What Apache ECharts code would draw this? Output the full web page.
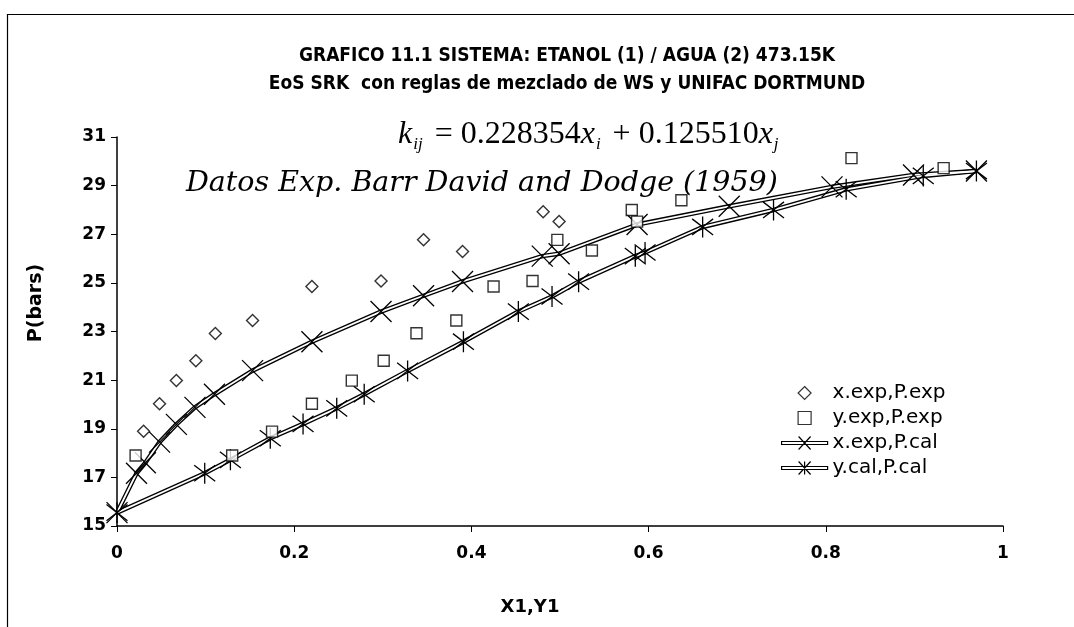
<!DOCTYPE html>
<html>
<head>
<meta charset="utf-8">
<script src="https://cdn.jsdelivr.net/npm/echarts@6/dist/echarts.min.js"></script>
<style>
html,body{margin:0;padding:0;background:#fff;}
#c{width:1074px;height:627px;}
</style>
</head>
<body>
<div id="c"></div>
<script>
// ---- data ----
const titleLines = ['GRAFICO 11.1 SISTEMA: ETANOL (1) / AGUA (2) 473.15K', 'EoS SRK  con reglas de mezclado de WS y UNIFAC DORTMUND'];
const xTicks = [0, 0.2, 0.4, 0.6, 0.8, 1];
const yTicks = [15, 17, 19, 21, 23, 25, 27, 29, 31];

// x.exp, P.exp (diamonds)
const xExp = [0.030, 0.048, 0.067, 0.089, 0.111, 0.153, 0.220, 0.298, 0.346, 0.390, 0.481, 0.499];
const pExpX = [18.9, 20.03, 20.98, 21.8, 22.92, 23.45, 24.85, 25.08, 26.77, 26.29, 27.93, 27.52];

// y.exp, P.exp (squares)
const yExp = [0.021, 0.130, 0.175, 0.220, 0.265, 0.301, 0.338, 0.383, 0.425, 0.469, 0.497, 0.536, 0.581, 0.587, 0.637, 0.829, 0.933];
const pExpY = [17.9, 17.9, 18.88, 20.03, 20.98, 21.8, 22.93, 23.45, 24.85, 25.08, 26.77, 26.33, 28.0, 27.52, 28.4, 30.13, 29.72];

// x.exp, P.cal (crosses)
const xCal = [0, 0.022, 0.032, 0.048, 0.067, 0.088, 0.110, 0.153, 0.220, 0.298, 0.346, 0.390, 0.480, 0.499, 0.587, 0.691, 0.807, 0.899, 0.970];
const pCalX = [15.55, 17.17, 17.6, 18.45, 19.18, 19.88, 20.42, 21.39, 22.58, 23.82, 24.47, 25.06, 26.1, 26.2, 27.4, 28.15, 28.95, 29.44, 29.6];

// y.cal, P.cal (asterisks)
const yCal = [0, 0.099, 0.128, 0.173, 0.210, 0.248, 0.279, 0.328, 0.391, 0.453, 0.491, 0.521, 0.585, 0.596, 0.661, 0.741, 0.823, 0.910, 0.970];
const pCalY = [15.55, 17.17, 17.72, 18.61, 19.2, 19.84, 20.42, 21.38, 22.58, 23.82, 24.44, 25.05, 26.1, 26.25, 27.3, 28.0, 28.85, 29.4, 29.6];

const names = ['x.exp,P.exp', 'y.exp,P.exp', 'x.exp,P.cal', 'y.cal,P.cal'];

// ---- build ----
const zip = (a, b) => a.map((v, i) => [v, b[i]]);
const crossPath = 'path://M0,0L10,10M10,0L0,10';
const starPath = 'path://M0,0L10,10M10,0L0,10M5,-1.5L5,11.5';
const sansB = "'DejaVu Sans', Verdana, sans-serif";

const chart = echarts.init(document.getElementById('c'), null, {renderer: 'canvas'});
const calLine = (name, data, sym, z) => ([
  {type: 'line', name: name + ' ', data, symbol: 'none', silent: true, z: z,
   lineStyle: {color: '#000', width: 4.5}, animation: false},
  {type: 'line', name, data, symbol: sym, symbolSize: 21, z: z + 1, animation: false,
   lineStyle: {color: '#fff', width: 1.8},
   itemStyle: {color: '#000', borderColor: '#000', borderWidth: 1.3}}
]);

chart.setOption({
  backgroundColor: '#fff',
  animation: false,
  title: {
    text: titleLines.join('\n'),
    left: 562, textAlign: 'center', top: 37,
    textStyle: {fontFamily: "'DejaVu Sans Condensed', 'DejaVu Sans', sans-serif", fontWeight: 'bold', fontSize: 19, lineHeight: 28, color: '#000'}
  },
  grid: {left: 117, right: 71, top: 137, bottom: 101, containLabel: false},
  xAxis: {
    type: 'value', min: xTicks[0], max: xTicks[xTicks.length - 1], interval: 0.2,
    name: 'X1,Y1', nameLocation: 'middle', nameGap: 72,
    nameTextStyle: {fontFamily: sansB, fontWeight: 'bold', fontSize: 18, color: '#000', padding: [0, 60, 0, 0]},
    axisLine: {lineStyle: {color: '#000', width: 1.5}},
    axisTick: {inside: false, length: 6, lineStyle: {color: '#000'}},
    splitLine: {show: false},
    axisLabel: {fontFamily: sansB, fontWeight: 'bold', fontSize: 17, color: '#000', margin: 19,
      formatter: v => String(+v.toFixed(1))}
  },
  yAxis: {
    type: 'value', min: yTicks[0], max: yTicks[yTicks.length - 1], interval: 2,
    axisLine: {show: true, lineStyle: {color: '#000', width: 1.5}},
    axisTick: {show: true, length: 6, lineStyle: {color: '#000'}},
    splitLine: {show: false},
    axisLabel: {fontFamily: sansB, fontWeight: 'bold', fontSize: 17, color: '#000', margin: 11}
  },
  legend: {
    orient: 'vertical', left: 776, top: 378, itemGap: 5, itemWidth: 46, itemHeight: 13,
    textStyle: {fontFamily: sansB, fontSize: 20, color: '#000'},
    data: [
      {name: names[0], icon: 'path://M5,0L10,5L5,10L0,5Z', itemStyle: {color: '#fff', borderColor: '#000', borderWidth: 1.2}},
      {name: names[1], icon: 'path://M0,0L10,0L10,10L0,10Z', itemStyle: {color: '#fff', borderColor: '#000', borderWidth: 1.2}},
      {name: names[2], icon: 'path://M0,5L46,5L46,8L0,8Z M17,0L29,13 M29,0L17,13', itemStyle: {color: '#fff', borderColor: '#000', borderWidth: 1.2}},
      {name: names[3], icon: 'path://M0,5L46,5L46,8L0,8Z M17,0L29,13 M29,0L17,13 M23,0L23,13', itemStyle: {color: '#fff', borderColor: '#000', borderWidth: 1.2}}
    ]
  },
  graphic: [
    {type: 'rect', left: 5, top: 12, silent: true,
     shape: {width: 1200, height: 700}, style: {fill: 'none', stroke: '#000', lineWidth: 1.2}},
    {type: 'text', x: 36, y: 303, rotation: Math.PI / 2, silent: true,
     style: {text: 'P(bars)', fill: '#000', align: 'center', verticalAlign: 'middle',
       font: "bold 19px 'DejaVu Sans', Verdana, sans-serif"}},
    {type: 'text', left: 398, top: 119, silent: true, z: 10,
     style: {
       text: '{i|k}{s|ij}{n| = 0.228354}{i|x}{s|i}{n| + 0.125510}{i|x}{s|j}',
       rich: {
         i: {fontFamily: "'Liberation Serif', serif", fontStyle: 'italic', fontSize: 32, fill: '#000'},
         n: {fontFamily: "'Liberation Serif', serif", fontSize: 32, fill: '#000'},
         s: {fontFamily: "'Liberation Serif', serif", fontStyle: 'italic', fontSize: 17, fill: '#000', padding: [19, 4, 0, 1]}
       }
     }},
    {type: 'text', left: 186, top: 169, silent: true, z: 10,
     style: {text: 'Datos Exp. Barr David and Dodge (1959)', fill: '#000',
       font: "italic 28.5px 'DejaVu Serif', serif"}}
  ],
  series: [
    {type: 'scatter', name: names[0], data: zip(xExp, pExpX), symbol: 'diamond', symbolSize: 12, z: 5,
     itemStyle: {color: '#fff', borderColor: '#000', borderWidth: 1.4}},
    {type: 'scatter', name: names[1], data: zip(yExp, pExpY), symbol: 'rect', symbolSize: 11, z: 5,
     itemStyle: {color: '#fff', borderColor: '#000', borderWidth: 1.4}},
    ...calLine(names[2], zip(xCal, pCalX), crossPath, 2),
    ...calLine(names[3], zip(yCal, pCalY), starPath, 2)
  ]
});
</script>
</body>
</html>
